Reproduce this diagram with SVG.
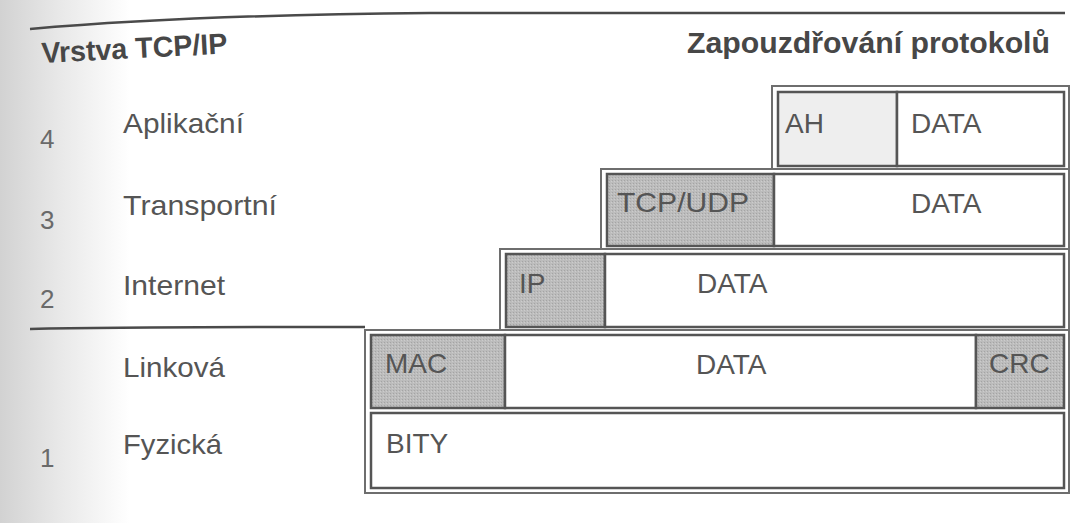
<svg xmlns="http://www.w3.org/2000/svg" width="1071" height="523" viewBox="0 0 1071 523">
  <defs>
    <linearGradient id="scan" x1="0" y1="0" x2="1" y2="0">
      <stop offset="0" stop-color="#d2d2d2"/>
      <stop offset="0.45" stop-color="#e8e8e8"/>
      <stop offset="1" stop-color="#ffffff"/>
    </linearGradient>
    <pattern id="dots" width="3" height="3" patternUnits="userSpaceOnUse">
      <rect width="3" height="3" fill="#bcbcbc"/>
      <rect x="0" y="0" width="1" height="1" fill="#a4a4a4"/>
      <rect x="2" y="1" width="1" height="1" fill="#cccccc"/>
    </pattern>
  </defs>
  <style>
    .hdr { font-family: "Liberation Sans", Arial, sans-serif; font-weight: bold; font-size: 29px; fill: #474747; }
    .lbl { font-family: "Liberation Sans", Arial, sans-serif; font-size: 28px; fill: #555555; }
    .num { font-family: "Liberation Sans", Arial, sans-serif; font-size: 26px; fill: #6a6a6a; }
    .cell { font-family: "Liberation Sans", Arial, sans-serif; font-size: 28px; fill: #555555; }
    .outer { fill: #ffffff; stroke: #6e6e6e; stroke-width: 2; }
    .inner { fill: #ffffff; stroke: #555555; stroke-width: 2.5; }
    .hd { fill: url(#dots); stroke: #555555; stroke-width: 2.5; }
    .light { fill: #eeeeee; stroke: #555555; stroke-width: 2.5; }
    .rule { fill: none; stroke: #4a4a4a; stroke-width: 2.5; }
  </style>

  <rect width="1071" height="523" fill="#ffffff"/>
  <rect width="130" height="523" fill="url(#scan)"/>

  <g id="rules">
    <path class="rule" d="M30,29 Q190,15 430,13 L1065,13"/>
    <path class="rule" d="M30,329 Q120,327 365,327"/>
  </g>

  <g id="headers">
    <text class="hdr" x="42" y="63" textLength="186" lengthAdjust="spacingAndGlyphs" transform="rotate(-3 42 63)">Vrstva TCP/IP</text>
    <text class="hdr" x="687" y="53" textLength="363" lengthAdjust="spacingAndGlyphs">Zapouzdřování protokolů</text>
  </g>

  <g id="layer-labels">
    <text class="num" x="40" y="148">4</text>
    <text class="lbl" x="123" y="133" textLength="121" lengthAdjust="spacingAndGlyphs">Aplikační</text>
    <text class="num" x="40" y="229">3</text>
    <text class="lbl" x="123" y="215" textLength="154" lengthAdjust="spacingAndGlyphs">Transportní</text>
    <text class="num" x="40" y="308">2</text>
    <text class="lbl" x="123" y="295" textLength="102" lengthAdjust="spacingAndGlyphs">Internet</text>
    <text class="lbl" x="123" y="377" textLength="102" lengthAdjust="spacingAndGlyphs">Linková</text>
    <text class="num" x="40" y="467">1</text>
    <text class="lbl" x="123" y="454" textLength="99" lengthAdjust="spacingAndGlyphs">Fyzická</text>
  </g>

  <g id="row-app">
    <rect class="outer" x="772" y="86" width="297" height="84"/>
    <rect class="light" x="778" y="92" width="119" height="74"/>
    <rect class="inner" x="897" y="92" width="167" height="74"/>
    <text class="cell" x="785" y="133">AH</text>
    <text class="cell" x="911" y="133">DATA</text>
  </g>

  <g id="row-transport">
    <rect class="outer" x="601" y="169" width="468" height="81"/>
    <rect class="hd" x="607" y="174" width="167" height="72"/>
    <rect class="inner" x="774" y="174" width="290" height="72"/>
    <text class="cell" x="617" y="212" textLength="132" lengthAdjust="spacingAndGlyphs">TCP/UDP</text>
    <text class="cell" x="911" y="213">DATA</text>
  </g>

  <g id="row-internet">
    <rect class="outer" x="500" y="249" width="569" height="82"/>
    <rect class="hd" x="506" y="254" width="99" height="73"/>
    <rect class="inner" x="605" y="254" width="459" height="73"/>
    <text class="cell" x="519" y="293">IP</text>
    <text class="cell" x="697" y="293">DATA</text>
  </g>

  <g id="row-link-physical">
    <rect class="outer" x="365" y="330" width="704" height="163"/>
    <rect class="hd" x="371" y="335" width="134" height="73"/>
    <rect class="inner" x="505" y="335" width="471" height="73"/>
    <rect class="hd" x="976" y="335" width="88" height="73"/>
    <text class="cell" x="385" y="373">MAC</text>
    <text class="cell" x="696" y="374">DATA</text>
    <text class="cell" x="989" y="373">CRC</text>
  </g>

  <g id="row-physical">
    <rect class="inner" x="371" y="413" width="693" height="75"/>
    <text class="cell" x="386" y="453">BITY</text>
  </g>
</svg>
